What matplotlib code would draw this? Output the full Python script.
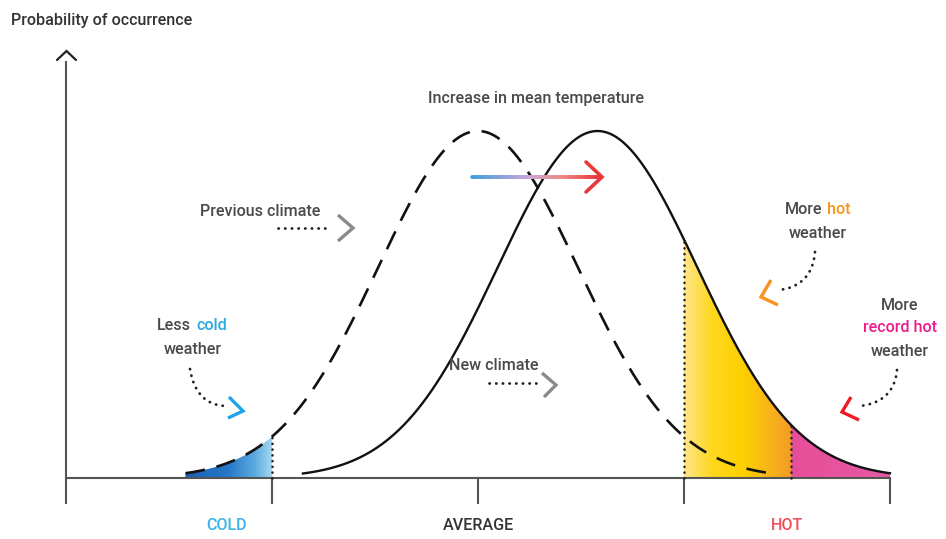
import numpy as np
import matplotlib
matplotlib.use("Agg")
import matplotlib.pyplot as plt
from matplotlib.collections import LineCollection
from matplotlib.colors import LinearSegmentedColormap

plt.rcParams['font.family'] = ['Roboto', 'DejaVu Sans']
plt.rcParams['font.weight'] = 'medium'

# ---------------- data ----------------
tick_positions = [0, 1, 2, 3, 4]
category_labels = ["COLD", "AVERAGE", "HOT"]
category_positions = [0.78, 2.0, 3.5]
category_colors = ["#3ab4e6", "#333333", "#f0505a"]

prev_mean = 2.0
new_mean = 2.58
sd = 0.485
prev_range = [0.58, 3.44]
new_range = [1.15, 4.0]
cold_threshold = 1.0
hot_threshold = 3.0
record_threshold = 3.52

# ---------------- figure ----------------
W, H = 946, 539
fig = plt.figure(figsize=(W / 100, H / 100), dpi=100)
ax = fig.add_axes([0, 0, 1, 1])
ax.set_xlim(-66 / 206, 880 / 206)
ax.set_ylim(-61 / 347, 478 / 347)
ax.axis('off')

ov = fig.add_axes([0, 0, 1, 1], zorder=5)
ov.set_xlim(0, W)
ov.set_ylim(H, 0)
ov.axis('off')
ov.patch.set_alpha(0)


def curve(mu, x):
    return np.exp(-0.5 * ((x - mu) / sd) ** 2)


axis_col = "#555555"
# axes lines
ax.plot([0, 0], [-25 / 347, (478 - 62) / 347], color=axis_col, lw=1.5, zorder=3)
ax.plot([0, tick_positions[-1]], [0, 0], color=axis_col, lw=1.5, zorder=3)
for t in tick_positions[1:]:
    ax.plot([t, t], [0, -25 / 347], color=axis_col, lw=1.5, zorder=3)
# y axis arrow head (pixel space)
ov.plot([57, 66.5, 76], [60, 51, 60], color="#222222", lw=1.6, solid_capstyle='round',
        solid_joinstyle='miter')


def grad_fill(mu, x0, x1, colors, z=1):
    xs = np.linspace(x0, x1, 200)
    ys = curve(mu, xs)
    poly = ax.fill_between(xs, 0, ys, facecolor='none', edgecolor='none')
    cmap = LinearSegmentedColormap.from_list("g", colors)
    grad = np.linspace(0, 1, 256).reshape(1, -1)
    im = ax.imshow(grad, extent=[x0, x1, 0, ys.max() * 1.02], cmap=cmap,
                   aspect='auto', zorder=z, origin='lower')
    im.set_clip_path(poly.get_paths()[0], transform=ax.transData)


grad_fill(prev_mean, prev_range[0], cold_threshold,
          [(0.0, "#1a5fb4"), (0.5, "#2778c8"), (0.8, "#5aaae0"), (1.0, "#a6d6f1")])
grad_fill(new_mean, hot_threshold, record_threshold,
          [(0.0, "#fde68a"), (0.25, "#ffd820"), (0.55, "#fdd000"), (0.8, "#f9b41a"),
           (1.0, "#f39a25")])
grad_fill(new_mean, record_threshold, new_range[1],
          [(0.0, "#e84e9a"), (1.0, "#e65aa3")])

# curves
xp = np.linspace(prev_range[0], prev_range[1], 400)
ax.plot(xp, curve(prev_mean, xp), color="#111111", lw=1.9, dashes=(7.5, 4.5), zorder=4)
xn = np.linspace(new_range[0], new_range[1], 400)
ax.plot(xn, curve(new_mean, xn), color="#111111", lw=1.7, zorder=4)

# dotted threshold lines
dot_kw = dict(color="#222222", lw=1.8, dashes=(0.1, 2.2), dash_capstyle='round', zorder=5)
ax.plot([cold_threshold, cold_threshold], [0, curve(prev_mean, cold_threshold)], **dot_kw)
ax.plot([hot_threshold, hot_threshold], [0, curve(new_mean, hot_threshold)], **dot_kw)
ax.plot([record_threshold, record_threshold], [0, curve(new_mean, record_threshold)], **dot_kw)

# gradient arrow (pixel space)
xs = np.linspace(472, 600, 120)
pts = np.array([xs, np.full_like(xs, 177)]).T.reshape(-1, 1, 2)
segs = np.concatenate([pts[:-1], pts[1:]], axis=1)
acmap = LinearSegmentedColormap.from_list("a", [(0, "#3f9fe0"), (0.45, "#c9a6d6"),
                                                 (0.7, "#ef8a8a"), (1, "#e8383a")])
lc = LineCollection(segs, colors=acmap(np.linspace(0, 1, len(segs))), lw=2.6,
                    capstyle='round')
ov.add_collection(lc)
ov.plot([586, 602, 586], [162, 177, 192], color="#e8383a", lw=2.6,
        solid_capstyle='round', solid_joinstyle='miter')

txt_col = "#4a4a4a"
fs = 11.6

# texts
ov.text(11, 20, "Probability of occurrence", fontsize=fs, color="#333333",
        ha='left', va='center')
ov.text(536, 98, "Increase in mean temperature", fontsize=fs, color=txt_col,
        ha='center', va='center')
ov.text(260, 212, "Previous climate", fontsize=fs, color=txt_col, ha='center', va='center')
ov.text(494, 365, "New climate", fontsize=fs, color=txt_col, ha='center', va='center')

ov.text(191, 325, "Less", fontsize=fs, color=txt_col, ha='right', va='center')
ov.text(196, 325, "cold", fontsize=fs, color="#27aae1", ha='left', va='center')
ov.text(193, 350, "weather", fontsize=fs, color=txt_col, ha='center', va='center')

ov.text(822, 210, "More", fontsize=fs, color=txt_col, ha='right', va='center')
ov.text(827, 210, "hot", fontsize=fs, color="#f7941d", ha='left', va='center')
ov.text(818, 233, "weather", fontsize=fs, color=txt_col, ha='center', va='center')

ov.text(900, 305, "More", fontsize=fs, color=txt_col, ha='center', va='center')
ov.text(900, 327, "record hot", fontsize=fs, color="#ec1c8c", ha='center', va='center')
ov.text(900, 351, "weather", fontsize=fs, color=txt_col, ha='center', va='center')

for lab, pos, col in zip(category_labels, category_positions, category_colors):
    ax.text(pos, (478 - 525) / 347, lab, fontsize=fs, color=col, ha='center', va='center')

# dotted pointers (pixel space)
pdot = dict(color="#222222", lw=2.0, dashes=(0.1, 2.3), dash_capstyle='round')


def bez(p0, c, p1, n=60):
    t = np.linspace(0, 1, n)[:, None]
    p0, c, p1 = map(np.array, (p0, c, p1))
    return ((1 - t) ** 2) * p0 + 2 * (1 - t) * t * c + (t ** 2) * p1


b = bez((190, 369), (196, 405), (226, 406))
ov.plot(b[:, 0], b[:, 1], **pdot)
b = bez((815, 252), (812, 286), (779, 290))
ov.plot(b[:, 0], b[:, 1], **pdot)
b = bez((897, 370), (894, 402), (860, 406))
ov.plot(b[:, 0], b[:, 1], **pdot)
ov.plot([278, 331], [228, 228], **pdot)
ov.plot([489, 542], [383, 383], **pdot)

chev = dict(lw=2.4, solid_capstyle='butt', solid_joinstyle='miter')
ov.plot([338, 353, 338], [215, 228, 241], color="#8a8a8a", **chev)
ov.plot([542, 556, 544], [373, 385, 397], color="#8a8a8a", **chev)
ov.plot([229, 243, 228], [397, 411, 418], color="#1fa5e3", **chev)
ov.plot([771, 761, 778], [280, 297, 305], color="#f7941d", **chev)
ov.plot([851, 842, 859], [397, 412, 420], color="#ed1c24", **chev)

fig.savefig("out.png", dpi=100)
